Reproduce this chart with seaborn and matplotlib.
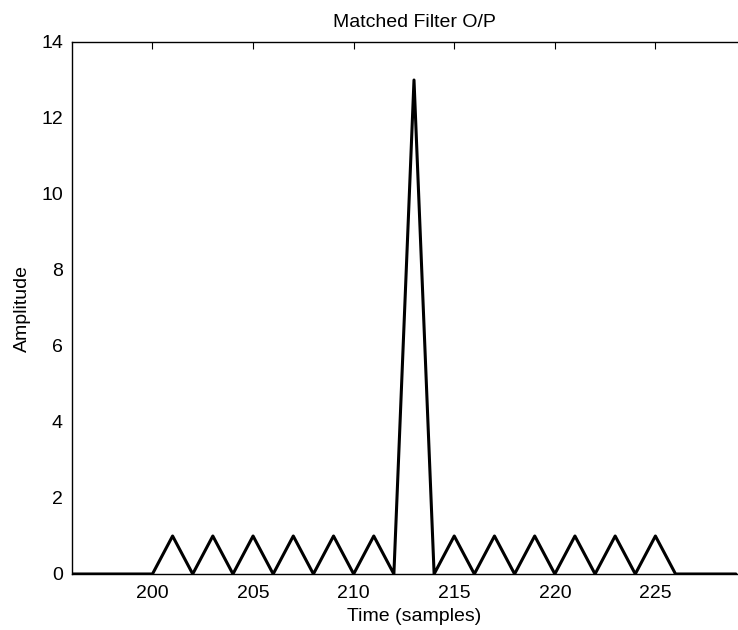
import numpy as np
import pandas as pd
import matplotlib
matplotlib.use("Agg")
import matplotlib.pyplot as plt
import seaborn as sns

# Matched filter output (Barker-13 autocorrelation), one value per sample
time_samples = list(range(196, 230))
amplitude = [0, 0, 0, 0,
             0, 1, 0, 1, 0, 1, 0, 1, 0, 1, 0, 1, 0,
             13,
             0, 1, 0, 1, 0, 1, 0, 1, 0, 1, 0, 1, 0,
             0, 0, 0]
x_ticks = [200, 205, 210, 215, 220, 225]
y_ticks = [0, 2, 4, 6, 8, 10, 12, 14]

df = pd.DataFrame({'time': time_samples, 'amplitude': amplitude})

sns.set_theme(style="white")
plt.rcParams['font.family'] = ['Liberation Sans', 'DejaVu Sans']

fig = plt.figure(figsize=(7.38, 6.30), dpi=100)
# axes runs past the right edge, as in the cropped original
ax = fig.add_axes([72 / 738, 1 - 574 / 630, 684 / 738, 532 / 630])

sns.lineplot(data=df, x='time', y='amplitude', color='black', linewidth=2.2, ax=ax)

ax.set_xlim(196, 230)
ax.set_ylim(0, 14)
ax.set_xticks(x_ticks)
ax.set_yticks(y_ticks)
ax.tick_params(direction='in', length=5, width=0.8, color='black',
               top=True, right=True, labelsize=14, labelcolor='black')
ax.tick_params(axis='x', pad=8)
ax.tick_params(axis='y', pad=6.5)
for s in ax.spines.values():
    s.set_color('black')
    s.set_linewidth(1.0)

ax.set_title('Matched Filter O/P', fontsize=14, color='black', pad=11)
ax.set_xlabel('Time (samples)', fontsize=14, color='black', labelpad=4)
ax.set_ylabel('Amplitude', fontsize=14, color='black', labelpad=7)

fig.savefig('out.png', dpi=100)
